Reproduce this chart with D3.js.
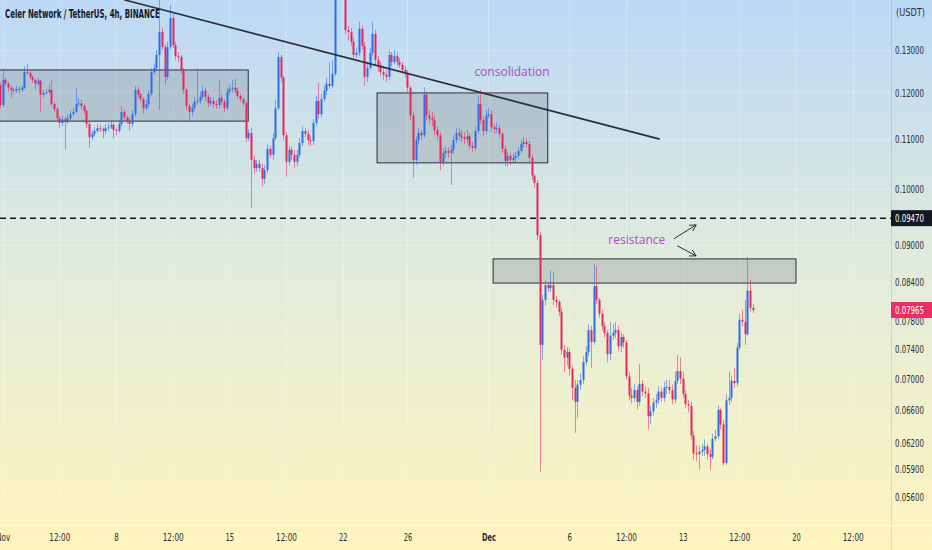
<!DOCTYPE html>
<html>
<head>
<meta charset="utf-8">
<script src="https://cdn.jsdelivr.net/npm/d3@7"></script>
<style>
  html, body { margin: 0; padding: 0; overflow: hidden; }
  body { width: 932px; height: 550px; }
  text { font-family: "Liberation Sans Narrow", "DejaVu Sans Condensed", "Roboto", sans-serif; }
</style>
</head>
<body>
<script>
// CELR/USDT 4h candles (open = previous close)
var title = "Celer Network / TetherUS, 4h, BINANCE";
var firstTime = Date.UTC(2021, 9, 31, 20);
var step = 4 * 3600 * 1000;
var firstOpen = 0.1217;

var closes = [
  .1172, .1229, .1220, .1211, .1206, .1204, .1208, .1206, .1211, .1247,
  .1245, .1236, .1229, .1220, .1227, .1195, .1199, .1201, .1206, .1174,
  .1163, .1143, .1133, .1141, .1135, .1143, .1152, .1157, .1174, .1176,
  .1170, .1159, .1131, .1103, .1110, .1116, .1122, .1120, .1116, .1122,
  .1124, .1129, .1118, .1116, .1131, .1157, .1145, .1137, .1131, .1152,
  .1206, .1195, .1185, .1165, .1174, .1197, .1247, .1257, .1288, .1345,
  .1307, .1236, .1307, .1381, .1312, .1285, .1283, .1252, .1206, .1170,
  .1157, .1165, .1179, .1181, .1190, .1204, .1190, .1176, .1181, .1174,
  .1172, .1188, .1179, .1165, .1201, .1208, .1211, .1204, .1192, .1185,
  .1176, .1101, .1112, .1057, .1041, .1049, .1041, .1020, .1037, .1079,
  .1067, .1101, .1165, .1283, .1234, .1107, .1053, .1077, .1067, .1053,
  .1067, .1091, .1116, .1110, .1097, .1095, .1133, .1181, .1152, .1185,
  .1204, .1220, .1215, .1243, .1483, .1540, .1512, .1456, .1350, .1345,
  .1320, .1288, .1293, .1353, .1310, .1236, .1257, .1293, .1340, .1276,
  .1264, .1247, .1241, .1236, .1288, .1271, .1285, .1271, .1264, .1252,
  .1245, .1211, .1149, .1057, .1097, .1112, .1107, .1195, .1149, .1143,
  .1139, .1118, .1107, .1053, .1071, .1075, .1071, .1077, .1097, .1112,
  .1107, .1103, .1099, .1105, .1085, .1081, .1116, .1174, .1139, .1116,
  .1149, .1152, .1124, .1120, .1122, .1110, .1079, .1055, .1065, .1057,
  .1061, .1065, .1075, .1089, .1093, .1089, .1061, .1026, .1012, .0917,
  .0746, .0812, .0835, .0830, .0835, .0812, .0809, .0794, .0739, .0728,
  .0736, .0713, .0688, .0670, .0692, .0698, .0722, .0736, .0767, .0750,
  .0833, .0812, .0791, .0773, .0763, .0733, .0759, .0763, .0767, .0744,
  .0757, .0749, .0703, .0678, .0675, .0685, .0670, .0693, .0683, .0681,
  .0652, .0658, .0669, .0672, .0683, .0675, .0688, .0689, .0685, .0673,
  .0697, .0710, .0700, .0680, .0667, .0665, .0629, .0608, .0607, .0610,
  .0612, .0616, .0607, .0604, .0625, .0628, .0660, .0642, .0597, .0672,
  .0675, .0697, .0694, .0742, .0782, .0779, .0761, .0826, .0800, .07965
];

var highs = [
  .1224, .1257, .1234, .1224, .1215, .1211, .1215, .1213, .1217, .1261,
  .1266, .1247, .1238, .1231, .1234, .1229, .1206, .1208, .1220, .1229,
  .1179, .1167, .1147, .1149, .1147, .1152, .1161, .1165, .1211, .1188,
  .1183, .1174, .1163, .1135, .1118, .1124, .1131, .1129, .1124, .1131,
  .1133, .1139, .1133, .1124, .1139, .1170, .1161, .1149, .1143, .1161,
  .1215, .1213, .1199, .1190, .1183, .1206, .1257, .1268, .1300, .1442,
  .1355, .1315, .1320, .1415, .1392, .1320, .1295, .1288, .1257, .1211,
  .1174, .1174, .1190, .1257, .1201, .1215, .1211, .1197, .1190, .1188,
  .1183, .1229, .1195, .1185, .1211, .1220, .1229, .1231, .1211, .1197,
  .1190, .1181, .1120, .1122, .1065, .1057, .1057, .1049, .1047, .1089,
  .1085, .1112, .1183, .1295, .1288, .1238, .1114, .1085, .1083, .1077,
  .1077, .1101, .1126, .1122, .1118, .1105, .1141, .1192, .1222, .1197,
  .1215, .1234, .1271, .1276, .1512, .1585, .1570, .1526, .1461, .1360,
  .1355, .1330, .1305, .1371, .1360, .1320, .1271, .1305, .1371, .1350,
  .1285, .1271, .1261, .1252, .1300, .1295, .1300, .1295, .1281, .1271,
  .1261, .1252, .1215, .1157, .1105, .1122, .1118, .1211, .1201, .1161,
  .1157, .1149, .1126, .1114, .1081, .1085, .1083, .1087, .1107, .1122,
  .1122, .1118, .1114, .1118, .1112, .1093, .1126, .1192, .1206, .1147,
  .1161, .1165, .1161, .1131, .1135, .1129, .1114, .1085, .1073, .1071,
  .1069, .1073, .1083, .1097, .1103, .1101, .1095, .1067, .1029, .1018,
  .0923, .0820, .0843, .0840, .0859, .0856, .0818, .0812, .0800, .0746,
  .0743, .0742, .0717, .0698, .0698, .0707, .0730, .0744, .0775, .0773,
  .0870, .0865, .0815, .0797, .0779, .0767, .0779, .0776, .0779, .0773,
  .0764, .0761, .0753, .0709, .0688, .0693, .0690, .0720, .0698, .0690,
  .0688, .0665, .0675, .0680, .0690, .0688, .0696, .0698, .0698, .0692,
  .0709, .0732, .0729, .0709, .0685, .0672, .0670, .0634, .0617, .0617,
  .0619, .0624, .0619, .0612, .0631, .0636, .0666, .0662, .0648, .0680,
  .0709, .0704, .0714, .0749, .0791, .0797, .0812, .0880, .0843, .0806
];

var lows = [
  .1165, .1167, .1215, .1201, .1188, .1197, .1199, .1197, .1201, .1208,
  .1241, .1231, .1222, .1206, .1215, .1157, .1188, .1195, .1197, .1170,
  .1157, .1135, .1122, .1126, .1077, .1131, .1139, .1147, .1154, .1170,
  .1163, .1152, .1122, .1081, .1097, .1105, .1112, .1114, .1101, .1110,
  .1116, .1120, .1101, .1107, .1112, .1126, .1139, .1131, .1118, .1124,
  .1147, .1188, .1179, .1154, .1161, .1167, .1192, .1241, .1252, .1161,
  .1300, .1217, .1229, .1300, .1305, .1276, .1271, .1243, .1197, .1161,
  .1135, .1147, .1161, .1172, .1174, .1185, .1181, .1167, .1170, .1165,
  .1163, .1165, .1172, .1157, .1161, .1195, .1199, .1197, .1185, .1179,
  .1170, .1093, .1095, .0966, .1029, .1033, .1033, .1006, .1010, .1031,
  .1061, .1057, .1097, .1161, .1224, .1097, .1024, .1045, .1057, .1041,
  .1045, .1061, .1085, .1103, .1087, .1085, .1087, .1126, .1143, .1145,
  .1179, .1195, .1208, .1211, .1238, .1469, .1483, .1442, .1340, .1325,
  .1310, .1276, .1281, .1285, .1300, .1215, .1224, .1252, .1285, .1261,
  .1247, .1238, .1229, .1224, .1229, .1261, .1266, .1261, .1257, .1243,
  .1234, .1201, .1139, .1022, .1047, .1087, .1097, .1101, .1139, .1131,
  .1126, .1107, .1097, .1037, .1045, .1061, .1061, .1008, .1069, .1091,
  .1097, .1093, .1089, .1091, .1077, .1073, .1075, .1110, .1131, .1105,
  .1110, .1143, .1116, .1110, .1112, .1101, .1071, .1045, .1043, .1047,
  .1049, .1053, .1059, .1069, .1081, .1081, .1051, .1018, .1003, .0909,
  .0587, .0725, .0803, .0824, .0824, .0804, .0800, .0788, .0732, .0709,
  .0717, .0704, .0672, .0632, .0650, .0685, .0693, .0717, .0730, .0714,
  .0746, .0806, .0785, .0767, .0756, .0722, .0725, .0753, .0756, .0739,
  .0736, .0742, .0698, .0672, .0668, .0670, .0660, .0665, .0677, .0675,
  .0636, .0643, .0653, .0662, .0667, .0670, .0670, .0680, .0680, .0667,
  .0668, .0693, .0693, .0675, .0662, .0657, .0624, .0601, .0599, .0589,
  .0605, .0605, .0601, .0589, .0601, .0622, .0624, .0636, .0594, .0595,
  .0666, .0670, .0688, .0690, .0739, .0773, .0746, .0759, .0794, .0792
];

var priceTicks = [0.13, 0.12, 0.11, 0.10, 0.09, 0.084, 0.078, 0.074, 0.070, 0.066, 0.062, 0.059, 0.056];
var timeTicks = [
  Date.UTC(2021, 10, 1), Date.UTC(2021, 10, 4, 12), Date.UTC(2021, 10, 8), Date.UTC(2021, 10, 11, 12),
  Date.UTC(2021, 10, 15), Date.UTC(2021, 10, 18, 12), Date.UTC(2021, 10, 22), Date.UTC(2021, 10, 26),
  Date.UTC(2021, 11, 1), Date.UTC(2021, 11, 6), Date.UTC(2021, 11, 9, 12), Date.UTC(2021, 11, 13),
  Date.UTC(2021, 11, 16, 12), Date.UTC(2021, 11, 20), Date.UTC(2021, 11, 23, 12)
];
var timeLabels = ["Nov", "12:00", "8", "12:00", "15", "12:00", "22", "26", "Dec", "6", "12:00", "13", "12:00", "20", "12:00"];

var lastPrice = 0.07965;
var markedLevel = 0.0947;

// drawings: [start, end, top price, bottom price]
var zones = [
  [Date.UTC(2021, 9, 31, 12), Date.UTC(2021, 10, 16, 4), 0.1252, 0.1137],
  [Date.UTC(2021, 10, 24, 3), Date.UTC(2021, 11, 4, 16), 0.1199, 0.1051],
  [Date.UTC(2021, 11, 1, 7), Date.UTC(2021, 11, 20), 0.0877, 0.0838]
];
var trendLine = [[Date.UTC(2021, 10, 8, 12), 0.1429], [Date.UTC(2021, 11, 11, 14), 0.1099]];
var arrows = [
  [[Date.UTC(2021, 11, 12, 11), 0.0911], [Date.UTC(2021, 11, 13, 20), 0.0935]],
  [[Date.UTC(2021, 11, 12, 16), 0.0899], [Date.UTC(2021, 11, 13, 20), 0.0882]]
];
var notes = [
  ["consolidation", Date.UTC(2021, 11, 2, 11), 0.1247],
  ["resistance", Date.UTC(2021, 11, 10, 4), 0.0909]
];

var W = 932, H = 550, plotW = 891, plotH = 525;
var upColor = "#2e6de6", downColor = "#e8265e";

var candles = closes.map(function(c, i) {
  return { t: firstTime + i * step, o: i ? closes[i - 1] : firstOpen, c: c, h: highs[i], l: lows[i] };
});

var x = d3.scaleUtc()
  .domain([Date.UTC(2021, 10, 8), Date.UTC(2021, 11, 20)])
  .range([116, 796]);
var y = d3.scaleLog()
  .domain([0.056, 0.13])
  .range([497, 50]);

// squeeze a text horizontally to a given width (the chart font is condensed)
function squeeze(sel, width, dx) {
  sel.each(function() {
    var t = d3.select(this);
    var w = this.getComputedTextLength();
    var k = Math.min(1, (typeof width === "function" ? width(t.text()) : width) / w);
    t.attr("x", 0).attr("transform", "translate(" + (dx || 0) + ",0) scale(" + k + ",1)");
  });
}

var svg = d3.select("body").append("svg")
  .attr("width", W)
  .attr("height", H);

var defs = svg.append("defs");
var grad = defs.append("linearGradient")
  .attr("id", "bg")
  .attr("x1", 0).attr("y1", 0).attr("x2", 0).attr("y2", 1);
grad.append("stop").attr("offset", "0%").attr("stop-color", "#bcd8f5");
grad.append("stop").attr("offset", "50%").attr("stop-color", "#e2ecdb");
grad.append("stop").attr("offset", "100%").attr("stop-color", "#fef4bd");

defs.append("clipPath").attr("id", "plot")
  .append("rect").attr("width", plotW).attr("height", plotH);

svg.append("rect")
  .attr("width", W)
  .attr("height", H)
  .attr("fill", "url(#bg)");

var plot = svg.append("g").attr("clip-path", "url(#plot)");

// grid
plot.selectAll("line.hgrid")
  .data(priceTicks)
  .enter().append("line")
  .attr("class", "hgrid")
  .attr("x1", 0).attr("x2", plotW)
  .attr("y1", function(d) { return Math.round(y(d)) + 0.5; })
  .attr("y2", function(d) { return Math.round(y(d)) + 0.5; })
  .attr("stroke", "rgba(255,255,255,0.25)");

plot.selectAll("line.vgrid")
  .data(timeTicks)
  .enter().append("line")
  .attr("class", "vgrid")
  .attr("y1", 0).attr("y2", plotH)
  .attr("x1", function(d) { return Math.round(x(d)) + 0.5; })
  .attr("x2", function(d) { return Math.round(x(d)) + 0.5; })
  .attr("stroke", "rgba(255,255,255,0.25)");

// zones
plot.selectAll("rect.zone")
  .data(zones)
  .enter().append("rect")
  .attr("class", "zone")
  .attr("x", function(d) { return x(d[0]); })
  .attr("y", function(d) { return y(d[2]); })
  .attr("width", function(d) { return x(d[1]) - x(d[0]); })
  .attr("height", function(d) { return y(d[3]) - y(d[2]); })
  .attr("fill", "rgba(120,125,135,0.28)")
  .attr("stroke", "#2a2e39")
  .attr("stroke-width", 1);

// candles
var cg = plot.selectAll("g.candle")
  .data(candles)
  .enter().append("g")
  .attr("class", "candle");

cg.append("line")
  .attr("x1", function(d) { return Math.round(x(d.t)) + 0.5; })
  .attr("x2", function(d) { return Math.round(x(d.t)) + 0.5; })
  .attr("y1", function(d) { return y(d.h); })
  .attr("y2", function(d) { return y(d.l); })
  .attr("stroke", function(d) { return d.c >= d.o ? upColor : downColor; })
  .attr("stroke-opacity", 0.55)
  .attr("stroke-width", 1);

cg.append("rect")
  .attr("x", function(d) { return Math.round(x(d.t)) - 0.5; })
  .attr("width", 2)
  .attr("y", function(d) { return y(Math.max(d.o, d.c)); })
  .attr("height", function(d) { return Math.max(1, Math.abs(y(d.o) - y(d.c))); })
  .attr("fill", function(d) { return d.c >= d.o ? upColor : downColor; });

// trend line
plot.append("line")
  .attr("x1", x(trendLine[0][0])).attr("y1", y(trendLine[0][1]))
  .attr("x2", x(trendLine[1][0])).attr("y2", y(trendLine[1][1]))
  .attr("stroke", "#2a2e39")
  .attr("stroke-width", 1.6);

// marked level
plot.append("line")
  .attr("x1", 0).attr("x2", plotW)
  .attr("y1", y(markedLevel)).attr("y2", y(markedLevel))
  .attr("stroke", "#131722")
  .attr("stroke-width", 1.5)
  .attr("stroke-dasharray", "6,4");

// arrows
arrows.forEach(function(a) {
  var x1 = x(a[0][0]), y1 = y(a[0][1]), x2 = x(a[1][0]), y2 = y(a[1][1]);
  var ang = Math.atan2(y2 - y1, x2 - x1), len = 7;
  var p = "M" + x1 + "," + y1 + "L" + x2 + "," + y2 +
    "M" + (x2 - len * Math.cos(ang - 0.5)) + "," + (y2 - len * Math.sin(ang - 0.5)) +
    "L" + x2 + "," + y2 +
    "L" + (x2 - len * Math.cos(ang + 0.5)) + "," + (y2 - len * Math.sin(ang + 0.5));
  plot.append("path")
    .attr("d", p)
    .attr("fill", "none")
    .attr("stroke", "#2a2e39")
    .attr("stroke-width", 1);
});

// notes
plot.selectAll("text.note")
  .data(notes)
  .enter().append("text")
  .attr("class", "note")
  .attr("x", function(d) { return x(d[1]); })
  .attr("y", function(d) { return y(d[2]); })
  .attr("dy", "0.35em")
  .attr("text-anchor", "middle")
  .style("font-family", "'Open Sans', 'DejaVu Sans', sans-serif")
  .style("font-size", "12px")
  .attr("fill", "#b348c8")
  .text(function(d) { return d[0]; });

// title
svg.append("text")
  .attr("y", 18)
  .style("font-size", "11.5px")
  .style("font-weight", "bold")
  .attr("fill", "#131722")
  .text(title)
  .call(squeeze, 155, 5);

// axis separators
svg.append("line")
  .attr("x1", plotW + 0.5).attr("x2", plotW + 0.5)
  .attr("y1", 0).attr("y2", H)
  .attr("stroke", "rgba(42,46,57,0.12)");
svg.append("line")
  .attr("x1", 0).attr("x2", W)
  .attr("y1", plotH + 0.5).attr("y2", plotH + 0.5)
  .attr("stroke", "rgba(255,255,255,0.6)");

// price axis
var yAxis = d3.axisRight(y)
  .tickValues(priceTicks)
  .tickFormat(d3.format(".5f"))
  .tickSize(0)
  .tickPadding(4);

var gy = svg.append("g")
  .attr("transform", "translate(" + plotW + ",0)")
  .call(yAxis);
gy.select(".domain").remove();
gy.selectAll("text")
  .style("font-size", "11px")
  .attr("fill", "#2a2e39")
  .call(squeeze, 29, 4);

svg.append("text")
  .attr("y", 16)
  .style("font-size", "10px")
  .attr("fill", "#2a2e39")
  .text("(USDT)")
  .call(squeeze, 29, 896);

// price tags
var tags = [[markedLevel, "#131722", "0.09470"], [lastPrice, "#eb2d64", "0.07965"]];
tags.forEach(function(t) {
  var ty = y(t[0]);
  svg.append("rect")
    .attr("x", plotW)
    .attr("y", ty - 8)
    .attr("width", W - plotW)
    .attr("height", 16)
    .attr("fill", t[1]);
  svg.append("text")
    .attr("y", ty)
    .attr("dy", "0.35em")
    .style("font-size", "11px")
    .attr("fill", "#ffffff")
    .text(t[2])
    .call(squeeze, 29, plotW + 4);
});

// time axis
var labelWidth = function(s) { return s.length * 4 - (s.indexOf(":") >= 0 ? 1 : 0) + (s.length < 3 ? 0.5 : 2); };

var xAxis = d3.axisBottom(x)
  .tickValues(timeTicks)
  .tickFormat(function(d, i) { return timeLabels[i]; })
  .tickSize(0)
  .tickPadding(8);

var gx = svg.append("g")
  .attr("transform", "translate(0," + plotH + ")")
  .call(xAxis);
gx.select(".domain").remove();
gx.selectAll("text")
  .style("font-size", "11px")
  .style("font-weight", function(d, i) { return timeLabels[i] === "Dec" ? "bold" : "normal"; })
  .attr("fill", "#2a2e39")
  .call(squeeze, labelWidth);
</script>
</body>
</html>
